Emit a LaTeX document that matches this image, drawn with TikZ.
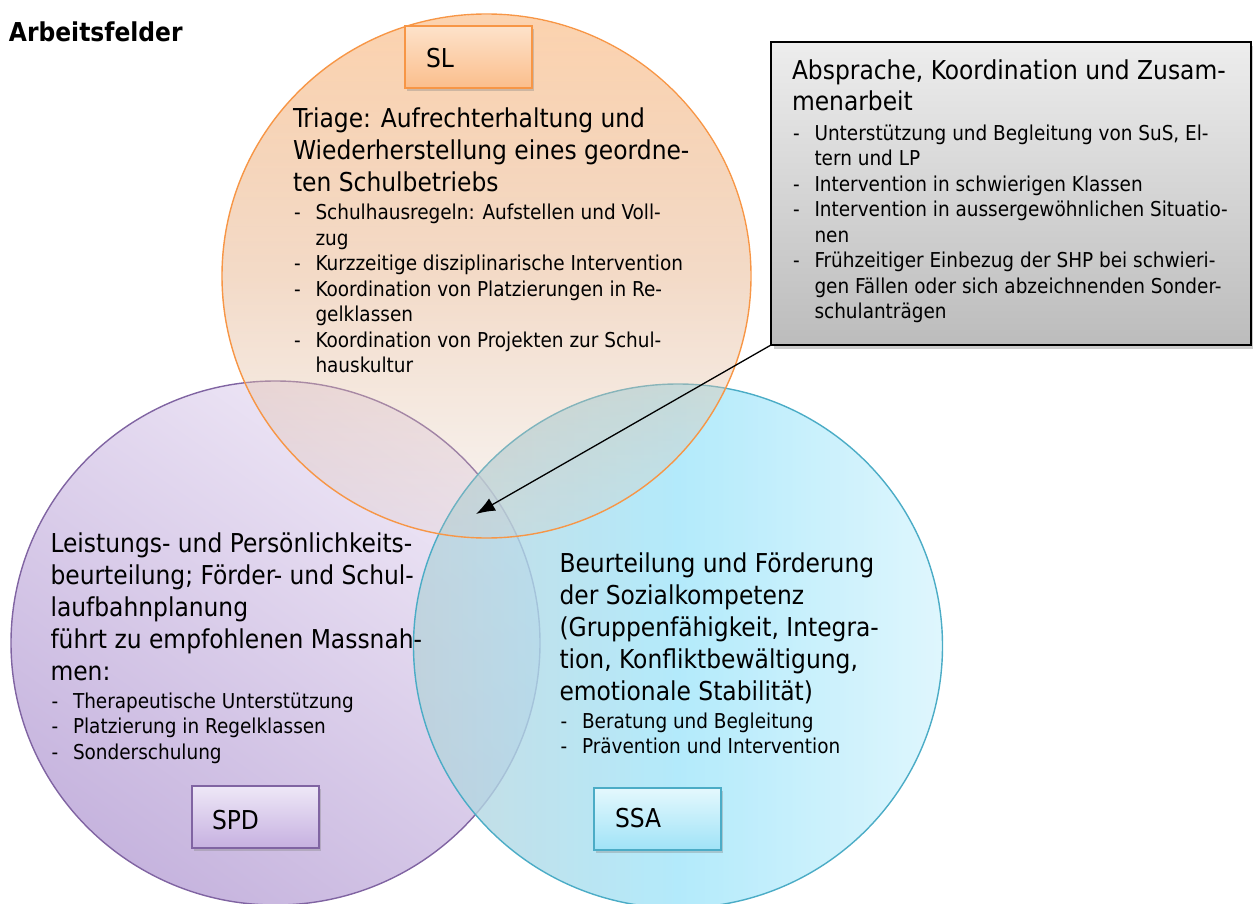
\documentclass[tikz,border=0pt]{standalone}
\usepackage{fontspec}
\setmainfont{DejaVu Sans Condensed}
\usetikzlibrary{shapes.geometric,shadows,arrows.meta,fadings}
\definecolor{orB}{HTML}{F79646}
\definecolor{puB}{HTML}{8064A2}
\definecolor{teB}{HTML}{4BACC6}
\definecolor{orTop}{RGB}{252,208,170}
\definecolor{orMid}{RGB}{234,190,156}
\definecolor{orBot}{RGB}{222,200,184}
\definecolor{puTop}{RGB}{240,233,247}
\definecolor{puBot}{RGB}{198,180,222}
\definecolor{teLeft}{RGB}{185,210,218}
\definecolor{teMid}{RGB}{160,229,250}
\definecolor{teRight}{RGB}{215,244,252}
\definecolor{slTop}{RGB}{253,226,202}
\definecolor{slBot}{RGB}{251,190,140}
\definecolor{spdTop}{RGB}{238,232,247}
\definecolor{spdBot}{RGB}{198,176,224}
\definecolor{ssaTop}{RGB}{228,248,253}
\definecolor{ssaBot}{RGB}{160,227,247}
\definecolor{grTop}{RGB}{237,237,237}
\definecolor{grBot}{RGB}{188,188,188}
\tikzfading[name=orfade, top color=transparent!5, middle color=transparent!12, bottom color=transparent!82]
\newcommand\mline[1]{\hbox{#1}}
\newcommand\litem[1]{\hbox{\makebox[22.5pt][l]{\hspace{1pt}-}#1}}
\newcommand\lcont[1]{\hbox{\hspace*{22.5pt}#1}}
\newcommand\mainsz{\fontsize{26}{32}\selectfont}
\newcommand\listsz{\fontsize{20.5}{25.5}\selectfont}
\tikzset{
  circ/.style={ellipse, inner sep=0, outer sep=0, minimum width=529, minimum height=524, line width=1.4pt},
  lbl/.style={rectangle, inner sep=0, outer sep=0, minimum width=127, minimum height=62, line width=1.2pt,
     drop shadow={opacity=0.35, shadow xshift=2pt, shadow yshift=-3pt}},
  txt/.style={inner sep=0, outer sep=0, anchor=base west, align=left},
}
\begin{document}
\begin{tikzpicture}[x=1pt,y=-1pt]
\useasboundingbox (0,0) rectangle (1253,904);
% circles
\node[circ, draw=puB, top color=puTop, bottom color=puBot, shading angle=-35] (spdc) at (275.5,643) {};
\node[circ, draw=teB, left color=teLeft, right color=teRight, middle color=teMid, fill opacity=0.8] (ssac) at (678,646) {};
\shade[top color=orTop, bottom color=orBot, middle color=orMid, path fading=orfade] (486.5,276) ellipse [x radius=264.5, y radius=262];
\node[circ, draw=orB] (slc) at (486.5,276) {};
% label boxes
\node[lbl, draw=orB, top color=slTop, bottom color=slBot, anchor=north west] (slbox) at (405,26) {};
\node[lbl, draw=puB, top color=spdTop, bottom color=spdBot, anchor=north west] (spdbox) at (192,786) {};
\node[lbl, draw=teB, top color=ssaTop, bottom color=ssaBot, anchor=north west] (ssabox) at (594,788) {};
\node[txt] (sltxt) at (426,68) {\mainsz SL};
\node[txt] (spdtxt) at (212,829) {\mainsz SPD};
\node[txt] (ssatxt) at (615,827) {\mainsz SSA};
% gray box
\node[rectangle, anchor=north west, inner sep=0, outer sep=0, minimum width=480, minimum height=303, draw=black, line width=1.5pt,
  top color=grTop, bottom color=grBot,
  drop shadow={opacity=0.4, shadow xshift=3pt, shadow yshift=-4pt}] (gray) at (771,42) {};
% title
\node[txt] (title) at (9,42) {\fontsize{26}{30}\selectfont\bfseries Arbeitsfelder};
% orange text
\node[txt] (sltext) at (293,128) {\vtop{\mainsz
  \mline{Triage: Aufrechterhaltung und}
  \mline{Wiederherstellung eines geordne-}
  \mline{ten Schulbetriebs}
  \listsz\vskip 2.5pt
  \litem{Schulhausregeln: Aufstellen und Voll-}
  \lcont{zug}
  \litem{Kurzzeitige disziplinarische Intervention}
  \litem{Koordination von Platzierungen in Re-}
  \lcont{gelklassen}
  \litem{Koordination von Projekten zur Schul-}
  \lcont{hauskultur}}};
% gray text
\node[txt] (graytext) at (792,80) {\vtop{\fontsize{26}{30.5}\selectfont
  \mline{Absprache, Koordination und Zusam-}
  \mline{menarbeit}
  \listsz\vskip 4.5pt
  \litem{Unterstützung und Begleitung von SuS, El-}
  \lcont{tern und LP}
  \litem{Intervention in schwierigen Klassen}
  \litem{Intervention in aussergewöhnlichen Situatio-}
  \lcont{nen}
  \litem{Frühzeitiger Einbezug der SHP bei schwieri-}
  \lcont{gen Fällen oder sich abzeichnenden Sonder-}
  \lcont{schulanträgen}}};
% purple text
\node[txt] (spdtext) at (50.5,552) {\vtop{\mainsz
  \mline{Leistungs- und Persönlichkeits-}
  \mline{beurteilung; Förder- und Schul-}
  \mline{laufbahnplanung}
  \mline{führt zu empfohlenen Massnah-}
  \mline{men:}
  \listsz\vskip 2.5pt
  \litem{Therapeutische Unterstützung}
  \litem{Platzierung in Regelklassen}
  \litem{Sonderschulung}}};
% teal text
\node[txt] (ssatext) at (559.5,572) {\vtop{\mainsz
  \mline{Beurteilung und Förderung}
  \mline{der Sozialkompetenz}
  \mline{(Gruppenfähigkeit, Integra-}
  \mline{tion, Konfliktbewältigung,}
  \mline{emotionale Stabilität)}
  \listsz\vskip 2.5pt
  \litem{Beratung und Begleitung}
  \litem{Prävention und Intervention}}};
% arrow
\coordinate (tip) at (476,514);
\draw[line width=1.3pt, -{Latex[length=19pt,width=14pt]}] (gray.south west) -- (tip);
\end{tikzpicture}
\end{document}
